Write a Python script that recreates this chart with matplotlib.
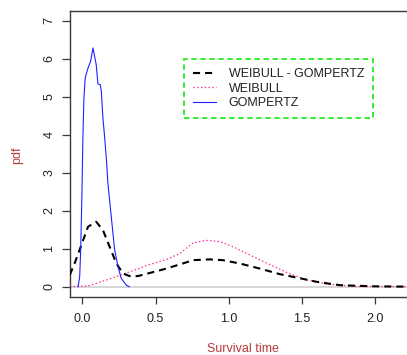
import matplotlib
matplotlib.use('Agg')
import matplotlib.pyplot as plt

plt.rcParams['font.family'] = ['Liberation Sans', 'DejaVu Sans']

# Density curves of survival time for the three fitted models
gomp_x = [-0.030, -0.019, -0.012, -0.003, 0.003, 0.010, 0.019, 0.038, 0.056, 0.072,
          0.094, 0.106, 0.122, 0.129, 0.140, 0.152, 0.163, 0.174, 0.197, 0.220,
          0.243, 0.265, 0.300, 0.320]
gomp_y = [0.00, 0.26, 0.97, 2.55, 3.92, 4.97, 5.50, 5.76, 5.94, 6.29,
          5.85, 5.34, 5.32, 5.15, 4.44, 3.92, 3.39, 2.72, 1.84, 0.97,
          0.53, 0.22, 0.04, 0.00]

wg_x = [-0.087, -0.053, -0.012, 0.038, 0.094, 0.140, 0.186, 0.231, 0.276, 0.322,
        0.379, 0.448, 0.575, 0.667, 0.757, 0.870, 0.960, 1.077, 1.210, 1.350,
        1.490, 1.600, 1.760, 2.000, 2.300]
wg_y = [0.31, 0.62, 1.05, 1.58, 1.71, 1.49, 1.05, 0.62, 0.35, 0.28,
        0.28, 0.35, 0.48, 0.59, 0.70, 0.72, 0.70, 0.61, 0.48, 0.33,
        0.22, 0.13, 0.04, 0.01, 0.00]

weib_x = [-0.087, 0.038, 0.128, 0.243, 0.357, 0.448, 0.575, 0.667, 0.757, 0.850,
          0.940, 1.030, 1.120, 1.260, 1.400, 1.530, 1.670, 1.860, 2.300]
weib_y = [0.00, 0.02, 0.13, 0.28, 0.44, 0.57, 0.72, 0.88, 1.16, 1.22,
          1.19, 1.05, 0.88, 0.62, 0.37, 0.18, 0.07, 0.01, 0.00]

x_ticks = [0.0, 0.5, 1.0, 1.5, 2.0]
x_tick_labels = ['0.0', '0.5', '1.0', '1.5', '2.0']
y_ticks = [0, 1, 2, 3, 4, 5, 6, 7]

label_color = '#B83A3A'
axis_color = '#3a3a3a'
fs = 9

fig = plt.figure(figsize=(4.07, 3.55), dpi=100)
ax = fig.add_axes([0.1713, 0.1642, 0.850, 0.8056])

ax.axhline(0, color='#d6d6d6', lw=1.4, zorder=1)
ax.plot(wg_x, wg_y, color='black', lw=1.5, ls=(0, (3.4, 2.4)),
        label='WEIBULL - GOMPERTZ', zorder=3)
ax.plot(weib_x, weib_y, color='#ff2d9a', lw=0.9, ls=(0, (1.2, 1.8)),
        label='WEIBULL', zorder=2)
ax.plot(gomp_x, gomp_y, color='#2020ff', lw=0.8, label='GOMPERTZ', zorder=4)

ax.set_xlim(-0.087, 2.277)
ax.set_ylim(-0.263, 7.27)

ax.set_xticks(x_ticks, x_tick_labels)
ax.set_yticks(y_ticks, [str(v) for v in y_ticks])
for lbl in ax.get_yticklabels():
    lbl.set_rotation(90)
    lbl.set_va('center')
ax.tick_params(axis='both', direction='out', colors=axis_color,
               labelcolor='#222222', labelsize=fs, width=0.9)
ax.tick_params(axis='x', length=5, pad=6.5)
ax.tick_params(axis='y', length=5.8, pad=4.5)
for spine in ax.spines.values():
    spine.set_color(axis_color)
    spine.set_linewidth(1.0)

fig.text(17 / 407, 1 - 155 / 355, 'pdf', rotation=90, color=label_color,
         fontsize=fs, ha='center', va='center')
fig.text(242.7 / 407, 1 - 349 / 355, 'Survival time', color=label_color,
         fontsize=fs, ha='center', va='center')

leg = ax.legend(loc='upper left', bbox_to_anchor=(184 / 407, 1 - 59.3 / 355),
                bbox_transform=fig.transFigure, borderaxespad=0,
                fontsize=fs, handlelength=1.85, handletextpad=1.0,
                labelspacing=0.2, borderpad=0.72, fancybox=False, framealpha=1)
frame = leg.get_frame()
frame.set_edgecolor('#22ee22')
frame.set_linestyle((0, (3, 2)))
frame.set_linewidth(1.3)
for t in leg.get_texts():
    t.set_color('#222222')

fig.savefig('out.png', dpi=100)
